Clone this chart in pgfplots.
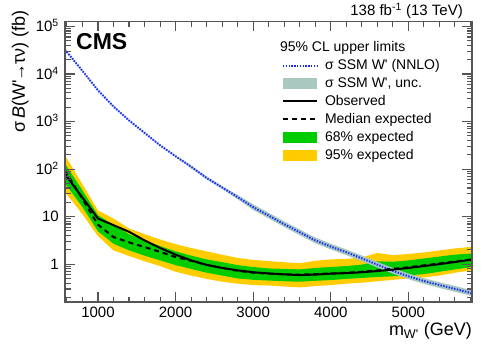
\documentclass[border=0pt]{standalone}
\usepackage{pgfplots}
\pgfplotsset{compat=1.18}
\usepackage{pgfplotstable}
\usepackage{fontspec}
\setmainfont{Liberation Sans}

\definecolor{cmsyellow}{RGB}{255,204,0}
\definecolor{cmsgreen}{RGB}{0,204,0}
\definecolor{thband}{RGB}{168,200,192}
\definecolor{thblue}{RGB}{25,45,255}
\definecolor{framegray}{RGB}{85,85,85}

\pgfplotstableread{
m     med    obs    th
575   93.3   77.6   32400
800   23.4   25.1   11600
1000  6.76   9.12   4540
1200  3.72   6.61   2070
1400  2.88   4.79   1054
1600  2.29   3.16   578
1800  1.82   2.19   316
2000  1.41   1.585  186
2200  1.175  1.20   112
2400  0.966  0.966  65
2600  0.832  0.832  41
2800  0.724  0.741  25.7
3000  0.661  0.676  15.8
3200  0.631  0.638  10.5
3400  0.610  0.610  6.92
3600  0.603  0.589  4.68
3800  0.617  0.603  3.16
4000  0.638  0.631  2.34
4200  0.661  0.646  1.78
4400  0.692  0.676  1.32
4600  0.741  0.716  0.977
4800  0.794  0.767  0.724
5000  0.861  0.832  0.556
5200  0.944  0.912  0.442
5400  1.035  1.00   0.363
5600  1.135  1.109  0.302
5820  1.259  1.245  0.245
}\limdata

\pgfplotsset{boxlegend/.style={legend image code/.code={\fill[##1, draw=none] (0pt,-5.5pt) rectangle (34pt,5.5pt);}}}

\begin{document}
\begin{tikzpicture}
\path[use as bounding box] (-65pt,-45pt) rectangle (433pt,302pt);
\begin{axis}[
  name=ax,
  scale only axis, width=407pt, height=280.5pt,
  ymode=log, log basis y=10,
  xmin=575, xmax=5820, ymin=0.16, ymax=1.27e5,
  axis on top,
  axis line style={framegray, line width=1.1pt},
  every tick/.style={framegray, line width=1.1pt},
  tick align=inside,
  major tick length=10pt, minor tick length=5.5pt,
  xtick={1000,2000,3000,4000,5000},
  xticklabels={1000,2000,3000,4000,5000},
  minor xtick={600,800,1200,1400,1600,1800,2200,2400,2600,2800,3200,3400,3600,3800,4200,4400,4600,4800,5200,5400,5600,5800},
  ytick={1,10,100,1000,10000,100000},
  yticklabels={1,10,10\textsuperscript{2},10\textsuperscript{3},10\textsuperscript{4},10\textsuperscript{5}},
  minor ytick={0.2,0.3,0.4,0.5,0.6,0.7,0.8,0.9,2,3,4,5,6,7,8,9,20,30,40,50,60,70,80,90,200,300,400,500,600,700,800,900,2000,3000,4000,5000,6000,7000,8000,9000,20000,30000,40000,50000,60000,70000,80000,90000},
  tick label style={font=\fontsize{15}{18}\selectfont},
  xticklabel style={inner sep=0pt, text height=10.7pt, text depth=0pt, yshift=-4.7pt},
  yticklabel style={inner sep=0pt, text height=10.7pt, text depth=0pt, xshift=-6pt},
  legend image code/.code={\draw[#1] (0pt,0pt) -- (34pt,0pt);},
  legend cell align=left,
  legend style={draw=none, fill=none, inner sep=0pt, outer sep=0pt,
    at={(axis description cs:0.5332,0.930)}, anchor=north west,
    font=\fontsize{14}{16}\selectfont, row sep=4.9pt, column sep=7pt,
    nodes={inner sep=0pt, text height=10.5pt, text depth=2.5pt}},
]
% 95% expected band
\addplot[fill=cmsyellow, draw=none, forget plot] coordinates {
(575,195) (800,47.9) (1000,13.5) (1200,9.12) (1400,5.62) (1600,4.27) (1800,3.31) (2000,2.63) (2200,2.19) (2400,1.86) (2600,1.585) (2800,1.35) (3000,1.23) (3200,1.16) (3400,1.10) (3600,1.047) (3800,1.175) (4000,1.26) (4200,1.29) (4400,1.38) (4600,1.72) (4800,1.55) (5000,1.64) (5200,1.76) (5400,1.95) (5600,2.14) (5820,2.32)
(5820,0.741) (5600,0.661) (5400,0.575) (5200,0.525) (5000,0.501) (4800,0.468) (4600,0.437) (4400,0.407) (4200,0.389) (4000,0.363) (3800,0.347) (3600,0.324) (3400,0.339) (3200,0.355) (3000,0.363) (2800,0.389) (2600,0.427) (2400,0.490) (2200,0.575) (2000,0.692) (1800,0.912) (1600,1.15) (1400,1.48) (1200,1.95) (1000,3.89) (800,11.2) (575,33.1)
} -- cycle;
% 68% expected band
\addplot[fill=cmsgreen, draw=none, forget plot] coordinates {
(575,129) (800,35.5) (1000,10.7) (1200,6.76) (1400,4.27) (1600,3.16) (1800,2.40) (2000,1.86) (2200,1.51) (2400,1.26) (2600,1.10) (2800,0.955) (3000,0.871) (3200,0.813) (3400,0.794) (3600,0.776) (3800,0.832) (4000,0.871) (4200,0.912) (4400,0.977) (4600,1.148) (4800,1.122) (5000,1.20) (5200,1.32) (5400,1.445) (5600,1.585) (5820,1.68)
(5820,0.871) (5600,0.776) (5400,0.692) (5200,0.617) (5000,0.582) (4800,0.556) (4600,0.537) (4400,0.513) (4200,0.490) (4000,0.462) (3800,0.447) (3600,0.427) (3400,0.437) (3200,0.452) (3000,0.468) (2800,0.501) (2600,0.575) (2400,0.661) (2200,0.794) (2000,0.955) (1800,1.20) (1600,1.51) (1400,1.95) (1200,2.69) (1000,4.90) (800,15.8) (575,50.1)
} -- cycle;
% theory uncertainty band
\addplot[fill=thband, draw=none, forget plot] coordinates {
(575,33500) (800,12000) (1000,4700) (1200,2140) (1400,1091) (1600,598) (1800,327) (2000,193) (2200,120) (2400,69.7) (2600,44.0) (2800,28.5) (3000,18.1) (3200,12.05) (3400,7.94) (3600,5.37) (3800,3.63) (4000,2.69) (4200,2.04) (4400,1.52) (4600,1.12) (4800,0.831) (5000,0.638) (5200,0.507) (5400,0.417) (5600,0.347) (5820,0.281)
(5820,0.213) (5600,0.263) (5400,0.316) (5200,0.385) (5000,0.484) (4800,0.631) (4600,0.851) (4400,1.15) (4200,1.55) (4000,2.04) (3800,2.75) (3600,4.08) (3400,6.03) (3200,9.15) (3000,13.8) (2800,23.2) (2600,38.3) (2400,60.6) (2200,104.5) (2000,180) (1800,305) (1600,558) (1400,1018) (1200,2000) (1000,4390) (800,11200) (575,31300)
} -- cycle;
\addplot[thblue, line width=2pt, dash pattern=on 1.4pt off 1.4pt, forget plot] table[x=m,y=th]{\limdata};
\addplot[black, line width=2pt, dash pattern=on 5pt off 4pt, forget plot] table[x=m,y=med]{\limdata};
\addplot[black, line width=2pt, forget plot] table[x=m,y=obs]{\limdata};

\addlegendimage{empty legend}
\addlegendentry{\hspace*{-45pt}95\% CL upper limits}
\addlegendimage{thblue, line width=2pt, dash pattern=on 1.4pt off 1.4pt}
\addlegendentry{σ SSM W\textquotesingle{} (NNLO)}
\addlegendimage{boxlegend, fill=thband}
\addlegendentry{σ SSM W\textquotesingle, unc.}
\addlegendimage{black, line width=2pt}
\addlegendentry{Observed}
\addlegendimage{black, line width=2pt, dash pattern=on 5pt off 4pt}
\addlegendentry{Median expected}
\addlegendimage{boxlegend, fill=cmsgreen}
\addlegendentry{68\% expected}
\addlegendimage{boxlegend, fill=cmsyellow}
\addlegendentry{95\% expected}
\end{axis}
\node[anchor=base east, inner sep=0pt, font=\fontsize{15}{18}\selectfont] at ([xshift=-9pt, yshift=5.5pt]ax.north east) {138 fb\textsuperscript{-1} (13 TeV)};
\node[anchor=base west, inner sep=0pt, font=\fontsize{23}{26}\selectfont\bfseries] at ([xshift=11pt, yshift=-28.5pt]ax.north west) {CMS};
\node[anchor=base east, inner sep=0pt, font=\fontsize{18}{21}\selectfont] at ([yshift=-34pt]ax.south east) {m\textsubscript{W\textquotesingle} (GeV)};
\node[anchor=base east, rotate=90, inner sep=0pt, font=\fontsize{18}{21}\selectfont] at ([xshift=-40pt, yshift=11.5pt]ax.north west) {σ\,\textit{B}(W\textquotesingle\kern-1pt→\kern-1ptτν) (fb)};
\end{tikzpicture}
\end{document}
